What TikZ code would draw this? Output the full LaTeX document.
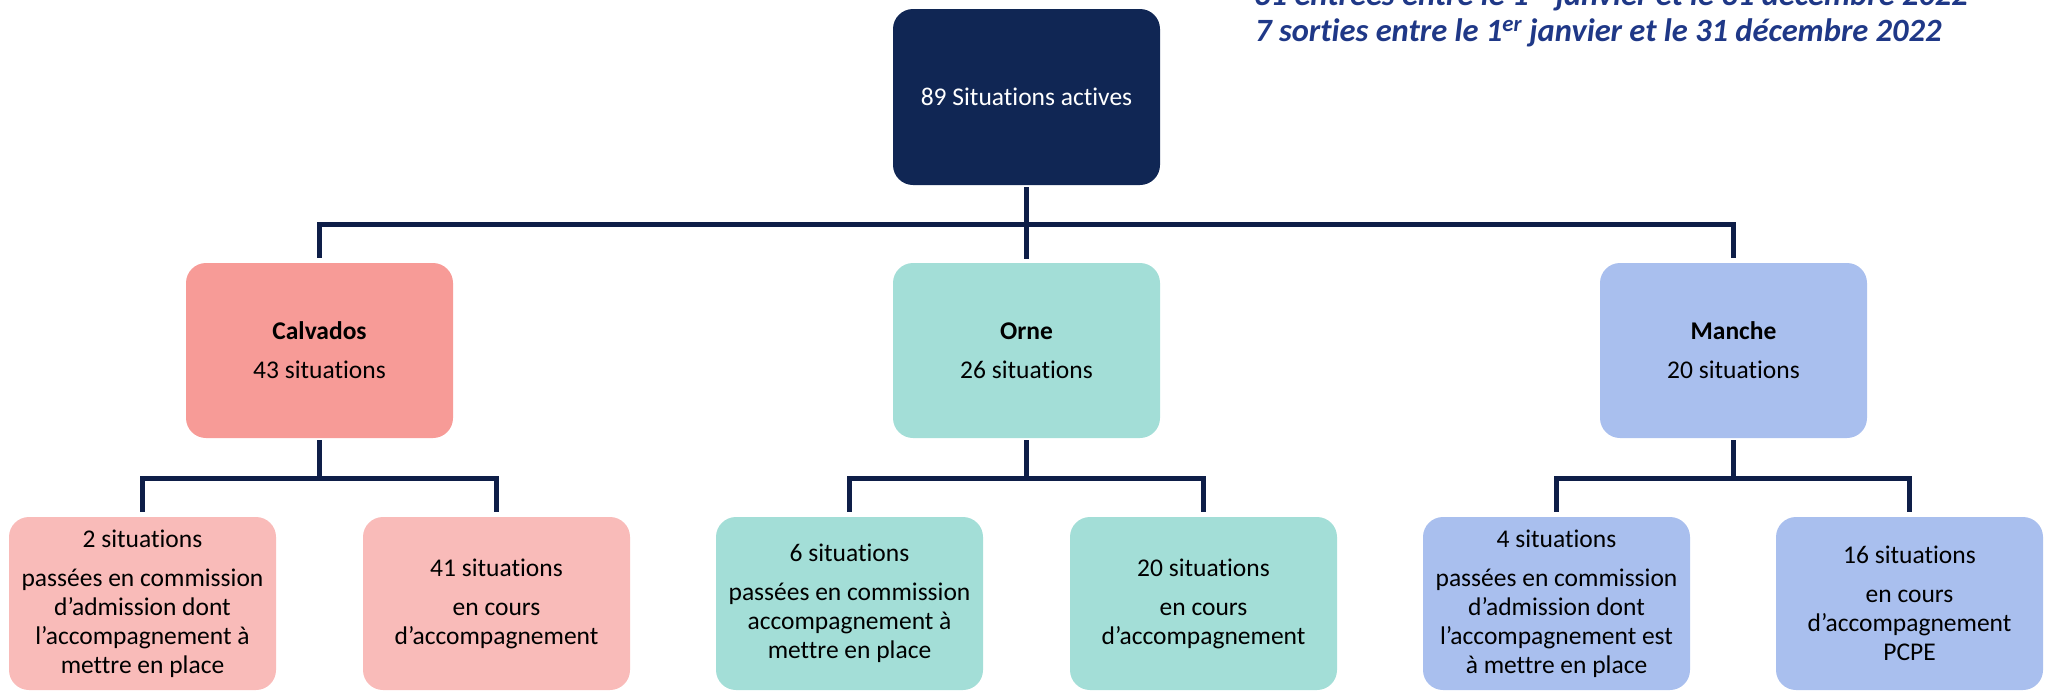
\documentclass[tikz,border=0pt]{standalone}
\usepackage{fontspec}
\setmainfont{Carlito}[Ligatures=NoCommon]
\definecolor{navy}{RGB}{16,38,84}
\definecolor{lineblue}{RGB}{14,30,72}
\definecolor{calvA}{RGB}{247,155,151}
\definecolor{calvB}{RGB}{249,187,185}
\definecolor{orneA}{RGB}{163,222,215}
\definecolor{mancheA}{RGB}{169,191,238}
\definecolor{titleblue}{RGB}{31,56,135}
\begin{document}
\begin{tikzpicture}[x=1pt,y=1pt,
  box/.style={rounded corners=20pt, minimum width=267pt, minimum height=175pt,
    inner sep=0pt, align=center, font=\fontsize{25.5}{29}\selectfont},
  leaf/.style={box, minimum height=173pt},
  conn/.style={draw=lineblue, line width=5pt, line join=miter},
  titletext/.style={anchor=base west, inner sep=0pt, text=titleblue,
    font=\fontsize{32.5}{36}\selectfont\bfseries\itshape}]
\useasboundingbox (0,0) rectangle (2053,-691);
\clip (0,0) rectangle (2053,-691);

% title
\node[titletext] (t1) at (1254,-5) {31 entrées entre le 1\textsuperscript{er} janvier et le 31 décembre 2022};
\node[titletext] (t2) at (1255,-41) {7 sorties entre le 1\textsuperscript{er} janvier et le 31 décembre 2022};

% top
\node[box, fill=navy, text=white, minimum height=176pt] (top) at (1026.5,-97) {89 Situations actives};

% level 2
\node[box, fill=calvA] (calv) at (319.5,-350.5) {\textbf{Calvados}\\[10pt]43 situations};
\node[box, fill=orneA] (orne) at (1026.5,-350.5) {\textbf{Orne}\\[10pt]26 situations};
\node[box, fill=mancheA] (manche) at (1733.5,-350.5) {\textbf{Manche}\\[10pt]20 situations};

% leaves
\node[leaf, fill=calvB] (l1) at (142.5,-603.5) {2 situations\\[10pt]passées en commission\\d’admission dont\\l’accompagnement à\\mettre en place};
\node[leaf, fill=calvB] (l2) at (496.5,-603.5) {41 situations\\[10pt]en cours\\d’accompagnement};
\node[leaf, fill=orneA] (l3) at (849.5,-603.5) {6 situations\\[10pt]passées en commission\\accompagnement à\\mettre en place};
\node[leaf, fill=orneA] (l4) at (1203.5,-603.5) {20 situations\\[10pt]en cours\\d’accompagnement};
\node[leaf, fill=mancheA] (l5) at (1556.5,-603.5) {4 situations\\[10pt]passées en commission\\d’admission dont\\l’accompagnement est\\à mettre en place};
\node[leaf, fill=mancheA] (l6) at (1909.5,-603.5) {16 situations\\[10pt]en cours\\d’accompagnement\\PCPE};

% connectors
\coordinate (busA) at (0,-224);
\coordinate (busB) at (0,-478);
\draw[conn, shorten <=2pt, shorten >=4pt] (top.south) -- (orne.north);
\draw[conn, shorten <=5pt, shorten >=5pt] (calv.north) -- (calv.north |- busA) -- (manche.north |- busA) -- (manche.north);

\draw[conn, shorten <=2pt] (calv.south) -- (calv.south |- busB);
\draw[conn, shorten <=5pt, shorten >=5pt] (l1.north) -- (l1.north |- busB) -- (l2.north |- busB) -- (l2.north);
\draw[conn, shorten <=2pt] (orne.south) -- (orne.south |- busB);
\draw[conn, shorten <=5pt, shorten >=5pt] (l3.north) -- (l3.north |- busB) -- (l4.north |- busB) -- (l4.north);
\draw[conn, shorten <=2pt] (manche.south) -- (manche.south |- busB);
\draw[conn, shorten <=5pt, shorten >=5pt] (l5.north) -- (l5.north |- busB) -- (l6.north |- busB) -- (l6.north);
\end{tikzpicture}
\end{document}
